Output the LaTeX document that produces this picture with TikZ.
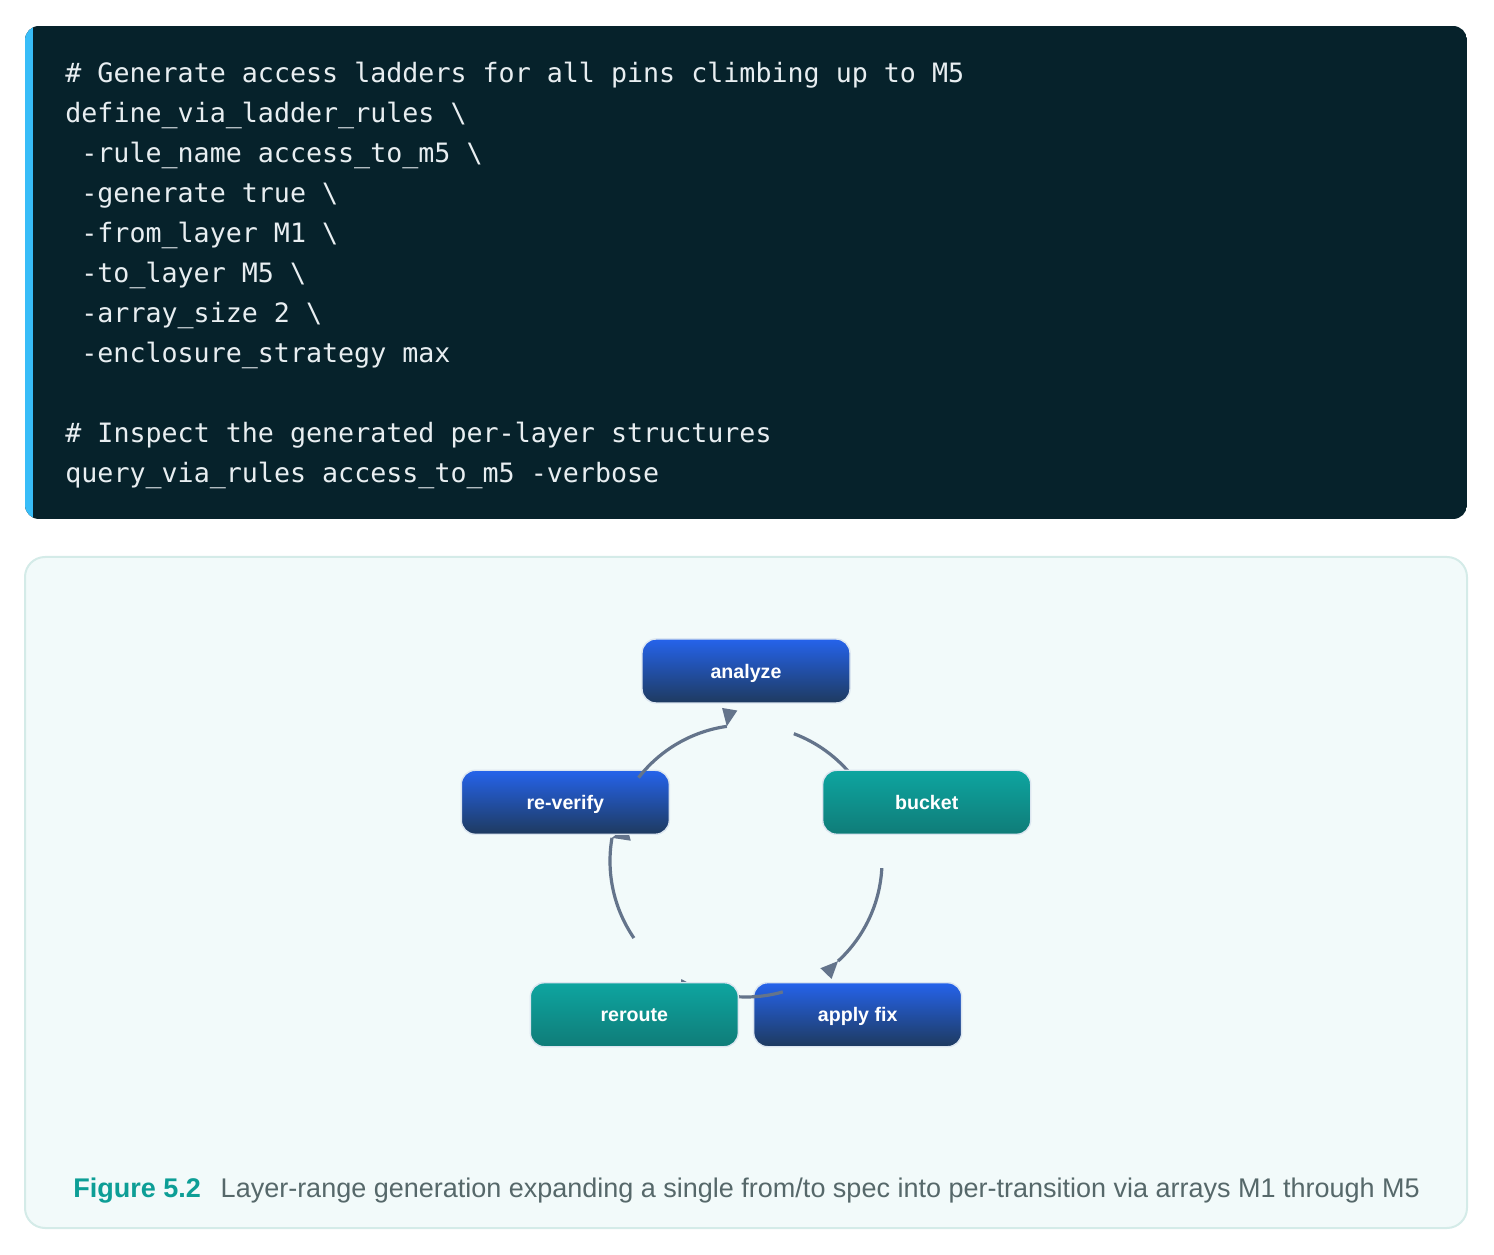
\documentclass[tikz,border=0pt]{standalone}
\usepackage{fontspec}
\setmainfont{Liberation Sans}
\setmonofont{DejaVu Sans Mono}
\usetikzlibrary{calc}
\usetikzlibrary{positioning}
\definecolor{codebg}{HTML}{06222B}
\definecolor{codeink}{HTML}{E8EEF1}
\definecolor{accentbar}{HTML}{38BDF8}
\definecolor{figbg}{HTML}{F2FAFA}
\definecolor{figrim}{HTML}{D4EBE8}
\definecolor{blueTop}{HTML}{2563EB}
\definecolor{blueBot}{HTML}{1E3A5F}
\definecolor{tealTop}{HTML}{0EA5A0}
\definecolor{tealBot}{HTML}{0F7C78}
\definecolor{noderim}{HTML}{DCE6F0}
\definecolor{edgegray}{HTML}{64748B}
\definecolor{capteal}{HTML}{0D9E96}
\definecolor{capgray}{HTML}{56686A}
\tikzset{codeline/.style = {anchor=base west, inner sep=0pt, text=codeink,
                            font=\ttfamily\fontsize{13.33}{16}\selectfont},
         loopbox/.style = {rounded corners=7pt, minimum width=104pt, minimum height=32pt,
                           draw=noderim, line width=0.7pt, text=white, text depth=0pt,
                           font=\bfseries\fontsize{9.8}{12}\selectfont},
         bluebox/.style = {loopbox, top color=blueTop, bottom color=blueBot},
         tealbox/.style = {loopbox, top color=tealTop, bottom color=tealBot},
         loopedge/.style = {draw=edgegray, line width=1.6pt}}
\newcommand{\looptip}[2]{\fill[edgegray] (#1) -- +(#2+24:19) -- +(#2-24:19) -- cycle;}

\begin{document}
\begin{tikzpicture}[x=0.5pt, y=0.5pt]
    \useasboundingbox (0,0) rectangle (1494,1254);

    % code panel
    \begin{scope}
      \clip[rounded corners=7pt] (25,735) rectangle (1467,1228);
      \fill[codebg] (25,735) rectangle (1467,1228);
      \fill[accentbar] (25,735) rectangle (33,1228);
    \end{scope}

    \node[codeline] (code1) at (65,1171) {\# Generate access ladders for all pins climbing up to M5};
    \node[codeline] (code2) at (65,1131) {define\_via\_ladder\_rules \textbackslash};
    \node[codeline] (code3) at (81,1091) {-rule\_name access\_to\_m5 \textbackslash};
    \node[codeline] (code4) at (81,1051) {-generate true \textbackslash};
    \node[codeline] (code5) at (81,1011) {-from\_layer M1 \textbackslash};
    \node[codeline] (code6) at (81,971) {-to\_layer M5 \textbackslash};
    \node[codeline] (code7) at (81,931) {-array\_size 2 \textbackslash};
    \node[codeline] (code8) at (81,891) {-enclosure\_strategy max};
    \node[codeline] (code9) at (65,811) {\# Inspect the generated per-layer structures};
    \node[codeline] (code10) at (65,771) {query\_via\_rules access\_to\_m5 -verbose};

    % figure panel
    \draw[figrim, fill=figbg, line width=1pt, rounded corners=10pt] (25,26) rectangle (1467,697);

    % the loop, each step followed by its outgoing edge
    \coordinate (hub) at (746,393);

    \node[bluebox] (analyze) at ($(hub)+(90:190)$) {analyze};
    \coordinate (ab-s) at ($(hub)+(69.4:136)$);
    \coordinate (ab-e) at ($(hub)+(26:136)$);
    \draw[loopedge] (ab-s) arc[start angle=69.4, end angle=26, radius=136];
    \looptip{ab-e}{-64}

    \node[tealbox] (bucket) at ($(hub)+(18:190)$) {bucket};
    \coordinate (bf-s) at ($(hub)+(-3:136)$);
    \coordinate (bf-e) at ($(hub)+(-47.4:136)$);
    \draw[loopedge] (bf-s) arc[start angle=-3, end angle=-47.4, radius=136];
    \looptip{bf-e}{-134}

    \node[bluebox] (applyfix) at ($(hub)+(-54:190)$) {apply fix};
    \coordinate (fr-s) at ($(hub)+(-74.3:136)$);
    \coordinate (fr-e) at ($(hub)+(-110.7:136)$);
    \draw[loopedge] (fr-s) arc[start angle=-74.3, end angle=-110.7, radius=136];
    \looptip{fr-e}{175}

    \node[tealbox] (reroute) at ($(hub)+(-126:190)$) {reroute};
    \coordinate (rv-s) at ($(hub)+(-145.5:136)$);
    \coordinate (rv-e) at ($(hub)+(-189.8:136)$);
    \draw[loopedge] (rv-s) arc[start angle=-145.5, end angle=-189.8, radius=136];
    \looptip{rv-e}{15.3}

    \node[bluebox] (reverify) at ($(hub)+(162:190)$) {re-verify};
    \coordinate (va-s) at ($(hub)+(142.2:136)$);
    \coordinate (va-e) at ($(hub)+(98.1:136)$);
    \draw[loopedge] (va-s) arc[start angle=142.2, end angle=98.1, radius=136];
    \looptip{va-e}{80.5}

    % caption
    \node[anchor=base west, inner sep=0pt, text=capteal,
          font=\bfseries\fontsize{13.5}{16}\selectfont] (figtag) at (73,56.5) {Figure 5.2};
    \node[anchor=base west, inner sep=0pt, text=capgray,
          font=\fontsize{13.5}{16}\selectfont] (figtext) at ([xshift=9.5pt]figtag.base east)
          {Layer-range generation expanding a single from/to spec into per-transition via arrays M1 through M5};
\end{tikzpicture}
\end{document}
